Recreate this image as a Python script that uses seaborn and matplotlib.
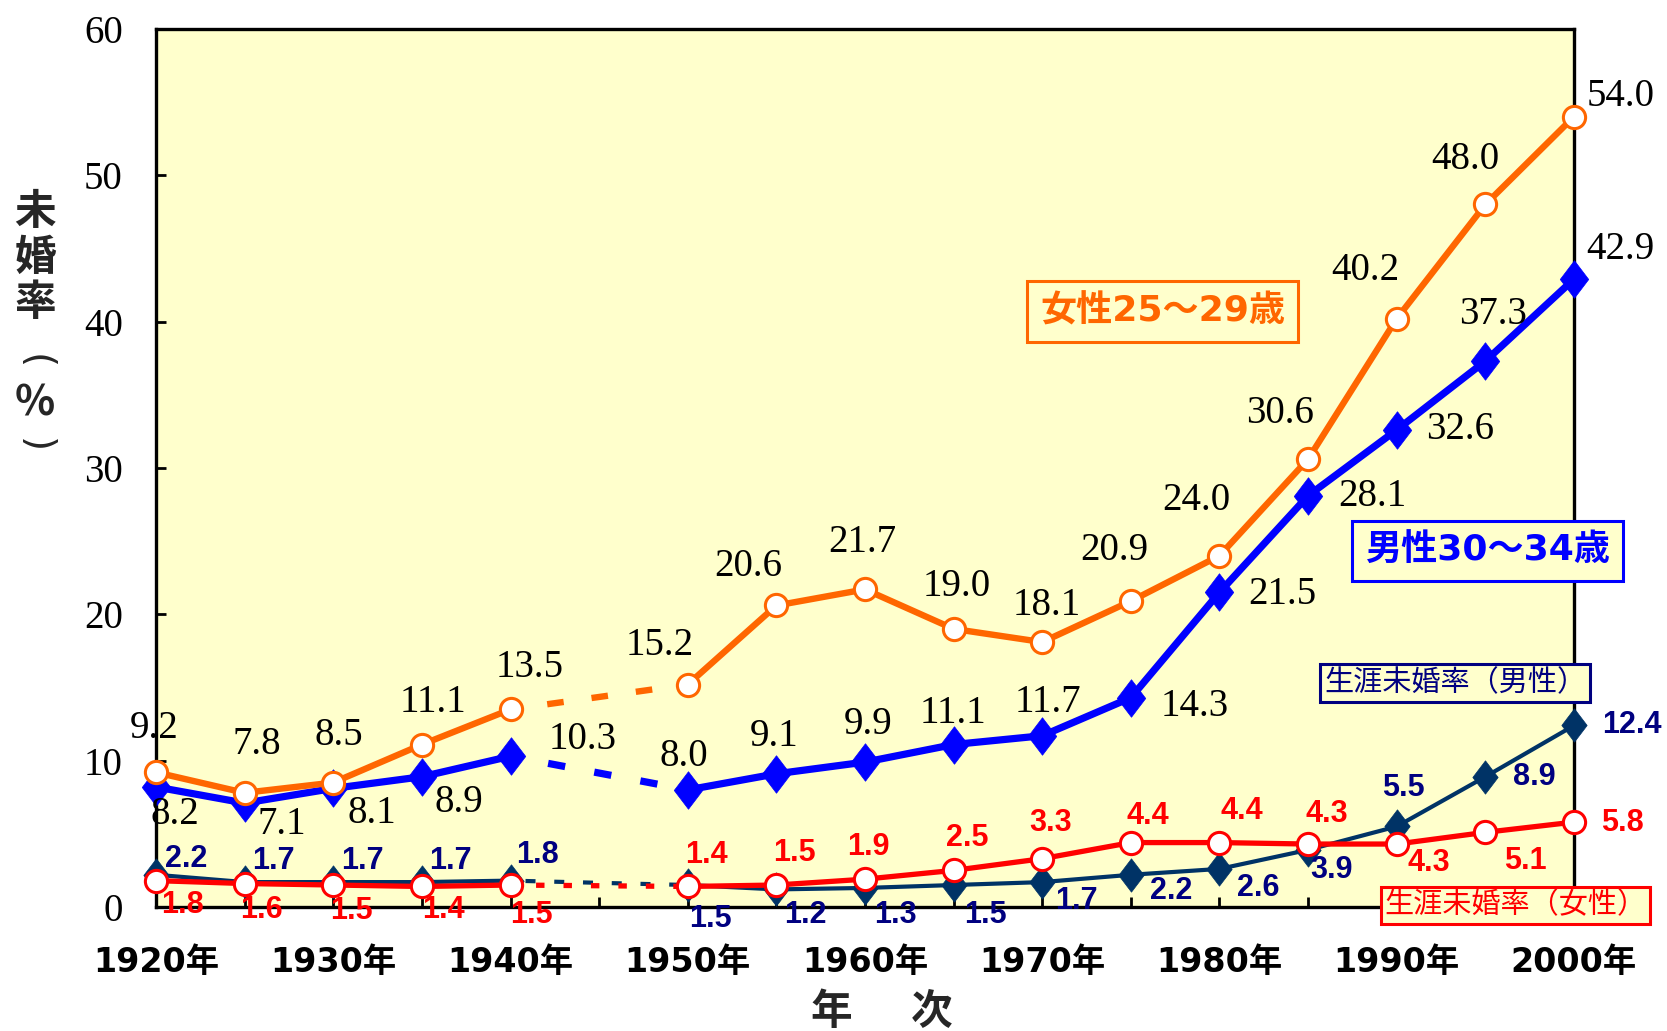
import numpy as np
import matplotlib
matplotlib.use("Agg")
import matplotlib.pyplot as plt
import seaborn as sns
from matplotlib.path import Path

# ---- data -------------------------------------------------------------
years = list(range(1920, 2001, 5))          # census years (1945: no census)
female_25_29 = [9.2, 7.8, 8.5, 11.1, 13.5, np.nan, 15.2, 20.6, 21.7, 19.0,
                18.1, 20.9, 24.0, 30.6, 40.2, 48.0, 54.0]
male_30_34 = [8.2, 7.1, 8.1, 8.9, 10.3, np.nan, 8.0, 9.1, 9.9, 11.1,
              11.7, 14.3, 21.5, 28.1, 32.6, 37.3, 42.9]
lifetime_male = [2.2, 1.7, 1.7, 1.7, 1.8, np.nan, 1.5, 1.2, 1.3, 1.5,
                 1.7, 2.2, 2.6, 3.9, 5.5, 8.9, 12.4]
lifetime_female = [1.8, 1.6, 1.5, 1.4, 1.5, np.nan, 1.4, 1.5, 1.9, 2.5,
                   3.3, 4.4, 4.4, 4.3, 4.3, 5.1, 5.8]

x_tick_labels = ["1920年", "", "1930年", "", "1940年", "", "1950年", "",
                 "1960年", "", "1970年", "", "1980年", "", "1990年", "",
                 "2000年"]
y_ticks = [0, 10, 20, 30, 40, 50, 60]

name_female = "女性25～29歳"
name_male = "男性30～34歳"
name_life_male = "生涯未婚率（男性）"
name_life_female = "生涯未婚率（女性）"

# ---- styling ----------------------------------------------------------
sns.set_style("ticks")
plt.rcParams["font.family"] = ["DejaVu Sans", "Noto Sans CJK JP"]

ORANGE = "#FF6600"
BLUE = "#0000FF"
NAVY = "#003366"
NAVY_TEXT = "#000080"
RED = "#FF0000"
PANEL = "#FFFFCC"

# tall diamond marker
diamond = Path([(0, 1), (0.76, 0), (0, -1), (-0.76, 0), (0, 1)],
               [Path.MOVETO, Path.LINETO, Path.LINETO, Path.LINETO,
                Path.CLOSEPOLY])

fig = plt.figure(figsize=(16.67, 10.31), dpi=100, facecolor="white")
ax = fig.add_axes([0.0936, 0.1203, 0.8506, 0.8517])
ax.set_facecolor(PANEL)

yrs = np.array(years)


def draw_series(values, color, lw, marker, ms, mfc, mew, z, bridge_style):
    v = np.array(values, dtype=float)
    gap = int(np.where(np.isnan(v))[0][0])
    for seg in (slice(0, gap), slice(gap + 1, None)):
        sns.lineplot(x=yrs[seg], y=v[seg], ax=ax, color=color, lw=lw,
                     marker=marker, markersize=ms, markerfacecolor=mfc,
                     markeredgecolor=color, markeredgewidth=mew,
                     zorder=z, clip_on=False, legend=False)
    # dashed bridge across the year without a census
    sns.lineplot(x=[yrs[gap - 1], yrs[gap + 1]],
                 y=[v[gap - 1], v[gap + 1]], ax=ax, color=color, lw=lw,
                 linestyle=bridge_style, zorder=z - 0.5, legend=False)


draw_series(lifetime_male, NAVY, 3.0, diamond, 24, NAVY, 0.5, 4,
            (3.3, (2.4, 4.5)))
draw_series(lifetime_female, RED, 3.8, "o", 16, "white", 2.2, 5,
            (0.36, (1.6, 3.6)))
draw_series(male_30_34, BLUE, 5.2, diamond, 27, BLUE, 0.5, 6,
            (1.2, (2.4, 4.1)))
draw_series(female_25_29, ORANGE, 4.6, "o", 16, "white", 2.2, 7,
            (1.2, (2.6, 4.4)))

# ---- value labels -----------------------------------------------------
OFFSET_SCALE = 1.063

off_female = [(-2, -41), (11, -45), (5, -44), (10, -40), (18, -39),
              (-26, -37), (-26, -37), (-3, -44), (3, -40), (4, -34),
              (-16, -48), (-22, -52), (-26, -43), (-30, -45), (-19, -42),
              (44, -19)]
off_male = [(18, 26), (35, 20), (36, 24), (35, 24), (68, -16),
            (-4, -31), (-2, -35), (3, -35), (-1, -29), (5, -31),
            (60, 8), (59, 2), (60, 1), (60, 0), (7, -44), (44, -28)]
off_life_male = [(28, -15), (27, -20), (27, -20), (27, -20), (25, -24),
                 (21, 32), (27, 24), (29, 25), (30, 28), (32, 18),
                 (38, 15), (36, 18), (22, 19), (6, -36), (46, 0), (54, 0)]
off_life_female = [(25, 23), (16, 25), (17, 24), (20, 22), (20, 28),
                   (18, -30), (17, -30), (3, -30), (13, -30), (8, -34),
                   (16, -25), (21, -30), (18, -28), (30, 18), (38, 27),
                   (46, 1)]

serif_font = dict(family=["Liberation Serif", "DejaVu Serif"], size=28)
bold_font = dict(family=["Liberation Sans", "DejaVu Sans"], size=22,
                 weight="bold")


def label_points(values, offsets, color, font):
    pts = [(yr, v) for yr, v in zip(years, values) if not np.isnan(v)]
    for (yr, v), (dx, dy) in zip(pts, offsets):
        ax.annotate(f"{v:.1f}", (yr, v),
                    xytext=(dx * OFFSET_SCALE, -dy * OFFSET_SCALE),
                    textcoords="offset pixels", ha="center", va="center",
                    color=color, annotation_clip=False, zorder=9, **font)


label_points(female_25_29, off_female, "black", serif_font)
label_points(male_30_34, off_male, "black", serif_font)
label_points(lifetime_male, off_life_male, NAVY_TEXT, bold_font)
label_points(lifetime_female, off_life_female, RED, bold_font)

# ---- series name boxes ------------------------------------------------
cjk_bold = dict(family=["DejaVu Sans", "Noto Sans CJK JP"], weight="bold",
                size=26)
cjk_reg = dict(family=["Noto Sans CJK JP", "DejaVu Sans"], size=21)


def name_box(x, y, text, color, font, pad):
    ax.text(x, y, text, color=color, ha="center", va="center",
            clip_on=False, zorder=10,
            bbox=dict(boxstyle=f"square,pad={pad}", fc=PANEL, ec=color,
                      lw=2.2), **font)


name_box(1976.8, 40.7, name_female, ORANGE, cjk_bold, 0.36)
name_box(1995.1, 24.3, name_male, BLUE, cjk_bold, 0.36)
name_box(1993.3, 15.3, name_life_male, NAVY_TEXT, cjk_reg, 0.13)
name_box(1996.7, 0.1, name_life_female, RED, cjk_reg, 0.13)

# ---- axes -------------------------------------------------------------
ax.set_xlim(1920, 2000)
ax.set_ylim(0, 60)
ax.set_xticks(years)
ax.set_xticklabels(x_tick_labels, fontsize=24, fontweight="bold",
                   family=["DejaVu Sans", "Noto Sans CJK JP"])
ax.set_yticks(y_ticks)
ax.set_yticklabels([str(t) for t in y_ticks], fontsize=28,
                   family=["Liberation Serif", "DejaVu Serif"])
ax.tick_params(axis="x", direction="in", length=7, width=2, pad=28,
               colors="black")
ax.tick_params(axis="y", direction="in", length=7, width=2, pad=24,
               colors="black")
for side in ("left", "right", "top", "bottom"):
    ax.spines[side].set_visible(True)
    ax.spines[side].set_color("black")
    ax.spines[side].set_linewidth(2.4)
ax.set_xlabel("")
ax.set_ylabel("")

# vertical y-axis title, one character per line
cjk_title = dict(ha="center", va="center", fontsize=30, fontweight="bold",
                 family=["Noto Sans CJK JP", "DejaVu Sans"])
for ch, yp in zip(["未", "婚", "率", "%"], [0.794, 0.750, 0.706, 0.609]):
    fig.text(0.021, yp, ch, **cjk_title)
# parentheses turned sideways for vertical writing
for ch, yp in zip(["(", ")"], [0.649, 0.568]):
    fig.text(0.021, yp, ch, ha="center", va="center", rotation=270,
             fontsize=28, family=["DejaVu Sans"])

# x-axis title, two widely spaced characters
for ch, xp in zip(["年", "次"], [0.4986, 0.5586]):
    fig.text(xp, 0.018, ch, ha="center", va="center", fontsize=30,
             fontweight="bold", family=["Noto Sans CJK JP", "DejaVu Sans"])

fig.savefig("out.png", dpi=100, facecolor="white")
